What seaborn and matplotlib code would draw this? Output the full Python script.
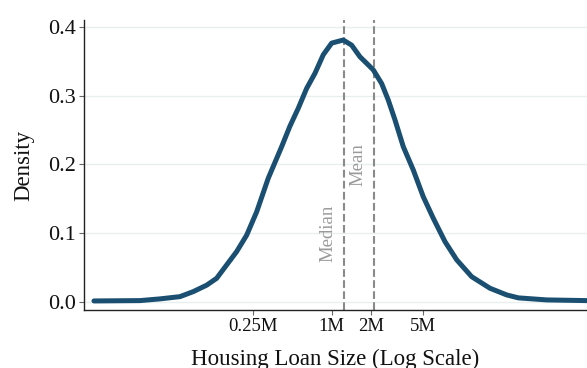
import matplotlib
matplotlib.use("Agg")
import matplotlib.pyplot as plt
import matplotlib.transforms as mtransforms
import pandas as pd
import seaborn as sns

# Density of housing loan sizes (in millions), evaluated on a log grid
loan_size_m = [0.01494, 0.03371, 0.04799, 0.0684, 0.0865, 0.1096, 0.1308,
               0.1561, 0.1864, 0.2225, 0.2655, 0.3259, 0.413, 0.4783,
               0.554, 0.6427, 0.7444, 0.8619, 1.0, 1.228, 1.424, 1.65,
               1.857, 2.087, 2.421, 2.721, 3.064, 3.548, 4.234, 5.052,
               6.03, 7.418, 9.123, 11.89, 16.44, 22.09, 27.12, 44.81,
               90.9, 115.0]
density = [0.001, 0.0015, 0.004, 0.0073, 0.0146, 0.024, 0.034,
           0.0535, 0.073, 0.097, 0.131, 0.180, 0.226, 0.256,
           0.282, 0.311, 0.333, 0.360, 0.377, 0.3815, 0.374, 0.357,
           0.3475, 0.338, 0.318, 0.294, 0.265, 0.226, 0.192, 0.153,
           0.1216, 0.0875, 0.061, 0.0364, 0.0195, 0.0098, 0.0055, 0.0025,
           0.0015, 0.0013]

median_m = 1.24
mean_m = 2.11

x_ticks = [0.25, 1, 2, 5]
x_tick_labels = ["0.25M", "1M", "2M", "5M"]
y_ticks = [0.0, 0.1, 0.2, 0.3, 0.4]
y_tick_labels = ["0.0", "0.1", "0.2", "0.3", "0.4"]

sns.set_theme(style="white")
plt.rcParams["font.family"] = ["Liberation Serif", "DejaVu Serif"]

df = pd.DataFrame({"loan": loan_size_m, "density": density})

fig = plt.figure(figsize=(5.87, 3.68), dpi=100)
ax = fig.add_axes([84 / 587, 58 / 368, 1 - 84 / 587, 290 / 368])

for yv in y_ticks:
    ax.axhline(yv, color="#e9efef", lw=1.0, zorder=0)

sns.lineplot(data=df, x="loan", y="density", ax=ax, color="#1b4f72",
             lw=3.6, zorder=3)
ax.lines[-1].set_solid_joinstyle("round")
ax.lines[-1].set_solid_capstyle("round")

ax.set_xscale("log")
ax.set_xlim(0.01253, 91.4)
ax.set_ylim(-0.0122, 0.4107)

ax.axvline(median_m, color="#8a8a8a", lw=1.5, ls="--", zorder=2)
ax.axvline(mean_m, color="#8a8a8a", lw=1.5, ls="--", zorder=2)

shift = mtransforms.ScaledTranslation(-15.5 / 100, 0, fig.dpi_scale_trans)
ax.text(median_m, 0.1, "Median", rotation=90, ha="center", va="center",
        fontsize=13.5, color="#9a9a9a", transform=ax.transData + shift)
ax.text(mean_m, 0.2, "Mean", rotation=90, ha="center", va="center",
        fontsize=13.5, color="#9a9a9a", transform=ax.transData + shift)

ax.set_xticks(x_ticks)
ax.set_xticklabels(x_tick_labels, fontsize=13.5, color="#111111")
ax.xaxis.set_minor_locator(matplotlib.ticker.NullLocator())
ax.set_yticks(y_ticks)
ax.set_yticklabels(y_tick_labels, fontsize=16, color="#111111")

ax.tick_params(axis="both", which="major", length=3.5, width=0.8,
               color="#666666", pad=2, bottom=True, left=True)

for side in ["top", "right"]:
    ax.spines[side].set_visible(False)
for side in ["left", "bottom"]:
    ax.spines[side].set_color("#222222")
    ax.spines[side].set_linewidth(1.0)

ax.set_xlabel("Housing Loan Size (Log Scale)", fontsize=16.5, color="#111111",
              labelpad=10)
ax.set_ylabel("Density", fontsize=16.5, color="#111111", labelpad=10)

fig.savefig("out.png", dpi=100)
